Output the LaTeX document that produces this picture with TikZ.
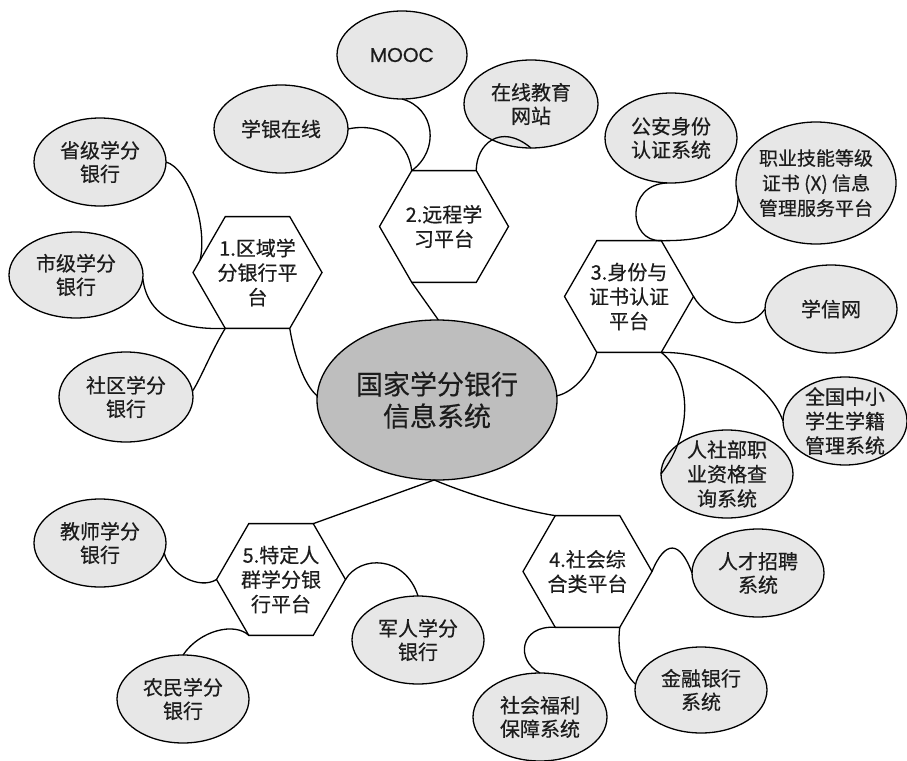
\documentclass[tikz,border=0pt]{standalone}
\usepackage{fontspec}
\setmainfont{Noto Sans CJK SC}[FakeBold=0.45]
\newfontfamily\mooccfont{Poppins}[FakeBold=0.5]
\usetikzlibrary{shapes.geometric}
\definecolor{ellfill}{RGB}{231,231,231}
\definecolor{cenfill}{RGB}{190,190,190}
\definecolor{txt}{RGB}{28,28,28}
\tikzset{
  conn/.style={line width=1.3pt, black},
  lbl/.style={align=center, text=txt, inner sep=0pt, font=\fontsize{20}{23.5}\selectfont},
  leaf/.style n args={2}{ellipse, draw, line width=1.3pt, fill=ellfill, inner sep=0pt, outer sep=0pt,
     minimum width=#1, minimum height=#2},
  hexa/.style={regular polygon, regular polygon sides=6, draw, line width=1.3pt, fill=white,
     minimum size=129pt, inner sep=0pt, outer sep=0pt},
  hub/.style={ellipse, draw, line width=1.3pt, fill=cenfill, inner sep=0pt, outer sep=0pt,
     minimum width=240pt, minimum height=160pt},
}
\begin{document}
\begin{tikzpicture}[x=1pt,y=-1pt]
\path[use as bounding box] (0,0) rectangle (907,760);

% central
\node[hub, label={[lbl,font=\fontsize{27}{32}\selectfont]center:国家学分银行\\信息系统}] (c) at (437,400) {};

% hexagons
\node[hexa, label={[lbl,font=\fontsize{20}{24.5}\selectfont]center:1.区域学\\分银行平\\台}] (h1) at (257.5,272.5) {};
\node[hexa, label={[lbl,font=\fontsize{20}{24.5}\selectfont]center:2.远程学\\习平台}] (h2) at (444,226.5) {};
\node[hexa, label={[lbl,font=\fontsize{20}{24.5}\selectfont]center:3.身份与\\证书认证\\平台}] (h3) at (629,296.5) {};
\node[hexa, label={[lbl,font=\fontsize{20}{24.5}\selectfont]center:4.社会综\\合类平台}] (h4) at (587.5,571.5) {};
\node[hexa, label={[lbl,font=\fontsize{20}{24.5}\selectfont]center:5.特定人\\群学分银\\行平台}] (h5) at (281,579.5) {};

% leaves
\node[leaf={130pt}{88pt}, label={[lbl,font=\mooccfont\fontsize{20}{24}\selectfont]center:MOOC}] (mooc) at (402,55) {};
\node[leaf={134pt}{88pt}, label={[lbl]center:学银在线}] (xueyin) at (281,129) {};
\node[leaf={134pt}{88pt}, label={[lbl]center:在线教育\\网站}] (zaixian) at (531,104) {};
\node[leaf={132pt}{88pt}, label={[lbl]center:省级学分\\银行}] (shengji) at (100,162) {};
\node[leaf={134pt}{86pt}, label={[lbl]center:市级学分\\银行}] (shiji) at (76,275) {};
\node[leaf={134pt}{90pt}, label={[lbl]center:社区学分\\银行}] (shequ) at (126,397) {};
\node[leaf={132pt}{90pt}, label={[lbl]center:公安身份\\认证系统}] (gongan) at (671,138) {};
\node[leaf={160pt}{122pt}, label={[lbl,font=\fontsize{19}{25}\selectfont]center:职业技能等级\\证书 (X) 信息\\管理服务平台}] (zhiye) at (816,183) {};
\node[leaf={132pt}{88pt}, label={[lbl]center:学信网}] (xuexin) at (831,309) {};
\node[leaf={124pt}{88pt}, label={[lbl,font=\fontsize{20}{24.5}\selectfont]center:全国中小\\学生学籍\\管理系统}] (quanguo) at (845,421) {};
\node[leaf={132pt}{88pt}, label={[lbl,font=\fontsize{20}{24.5}\selectfont]center:人社部职\\业资格查\\询系统}] (renshe) at (727,474) {};
\node[leaf={132pt}{88pt}, label={[lbl]center:人才招聘\\系统}] (rencai) at (758,573) {};
\node[leaf={132pt}{86pt}, label={[lbl]center:金融银行\\系统}] (jinrong) at (701,690) {};
\node[leaf={134pt}{88pt}, label={[lbl]center:社会福利\\保障系统}] (fuli) at (540,717) {};
\node[leaf={132pt}{88pt}, label={[lbl]center:教师学分\\银行}] (jiaoshi) at (100,543) {};
\node[leaf={132pt}{88pt}, label={[lbl]center:军人学分\\银行}] (junren) at (418,640) {};
\node[leaf={132pt}{88pt}, label={[lbl]center:农民学分\\银行}] (nongmin) at (183,699) {};

% hub to platforms
\draw[conn] (c.178) .. controls (304,385) and (294,355) .. (h1.300);
\draw[conn] (h2.240) -- (c.89);
\draw[conn] (c.2) .. controls (575,392) and (592,370) .. (h3.240);
\draw[conn] (c.268) .. controls (470,495) and (520,510) .. (h4.120);
\draw[conn] (c.268) -- (h5.60);

% platform 1
\draw[conn] (shengji.east) .. controls (188,168) and (208,225) .. (h1.168);
\draw[conn] (shiji.-3) .. controls (148,320) and (185,330) .. (h1.240);
\draw[conn] (h1.240) .. controls (212,350) and (200,380) .. (shequ.5);

% platform 2
\draw[conn] (mooc.south) .. controls (435,108) and (440,150) .. (h2.120);
\draw[conn] (xueyin.east) .. controls (380,122) and (408,140) .. (h2.120);
\draw[conn] (h2.60) .. controls (476,145) and (500,122) .. (zaixian.south);

% platform 3
\draw[conn] (gongan.265) .. controls (625,185) and (628,242) .. (h3.60);
\draw[conn] (h3.60) .. controls (700,241) and (738,235) .. (zhiye.190);
\draw[conn] (h3.0) .. controls (708,322) and (748,334) .. (xuexin.west);
\draw[conn] (h3.300) .. controls (720,352) and (770,385) .. (quanguo.west);
\draw[conn] (h3.300) .. controls (690,375) and (695,430) .. (renshe.west);

% platform 4
\draw[conn] (h4.0) .. controls (665,540) and (680,540) .. (rencai.west);
\draw[conn] (h4.300) .. controls (617,650) and (622,672) .. (jinrong.175);
\draw[conn] (h4.240) .. controls (520,625) and (515,660) .. (fuli.north);

% platform 5
\draw[conn] (jiaoshi.-9) .. controls (170,575) and (200,590) .. (h5.180);
\draw[conn] (nongmin.north) .. controls (200,630) and (235,622) .. (h5.240);
\draw[conn] (h5.0) .. controls (360,555) and (405,555) .. (junren.north);
\end{tikzpicture}
\end{document}
